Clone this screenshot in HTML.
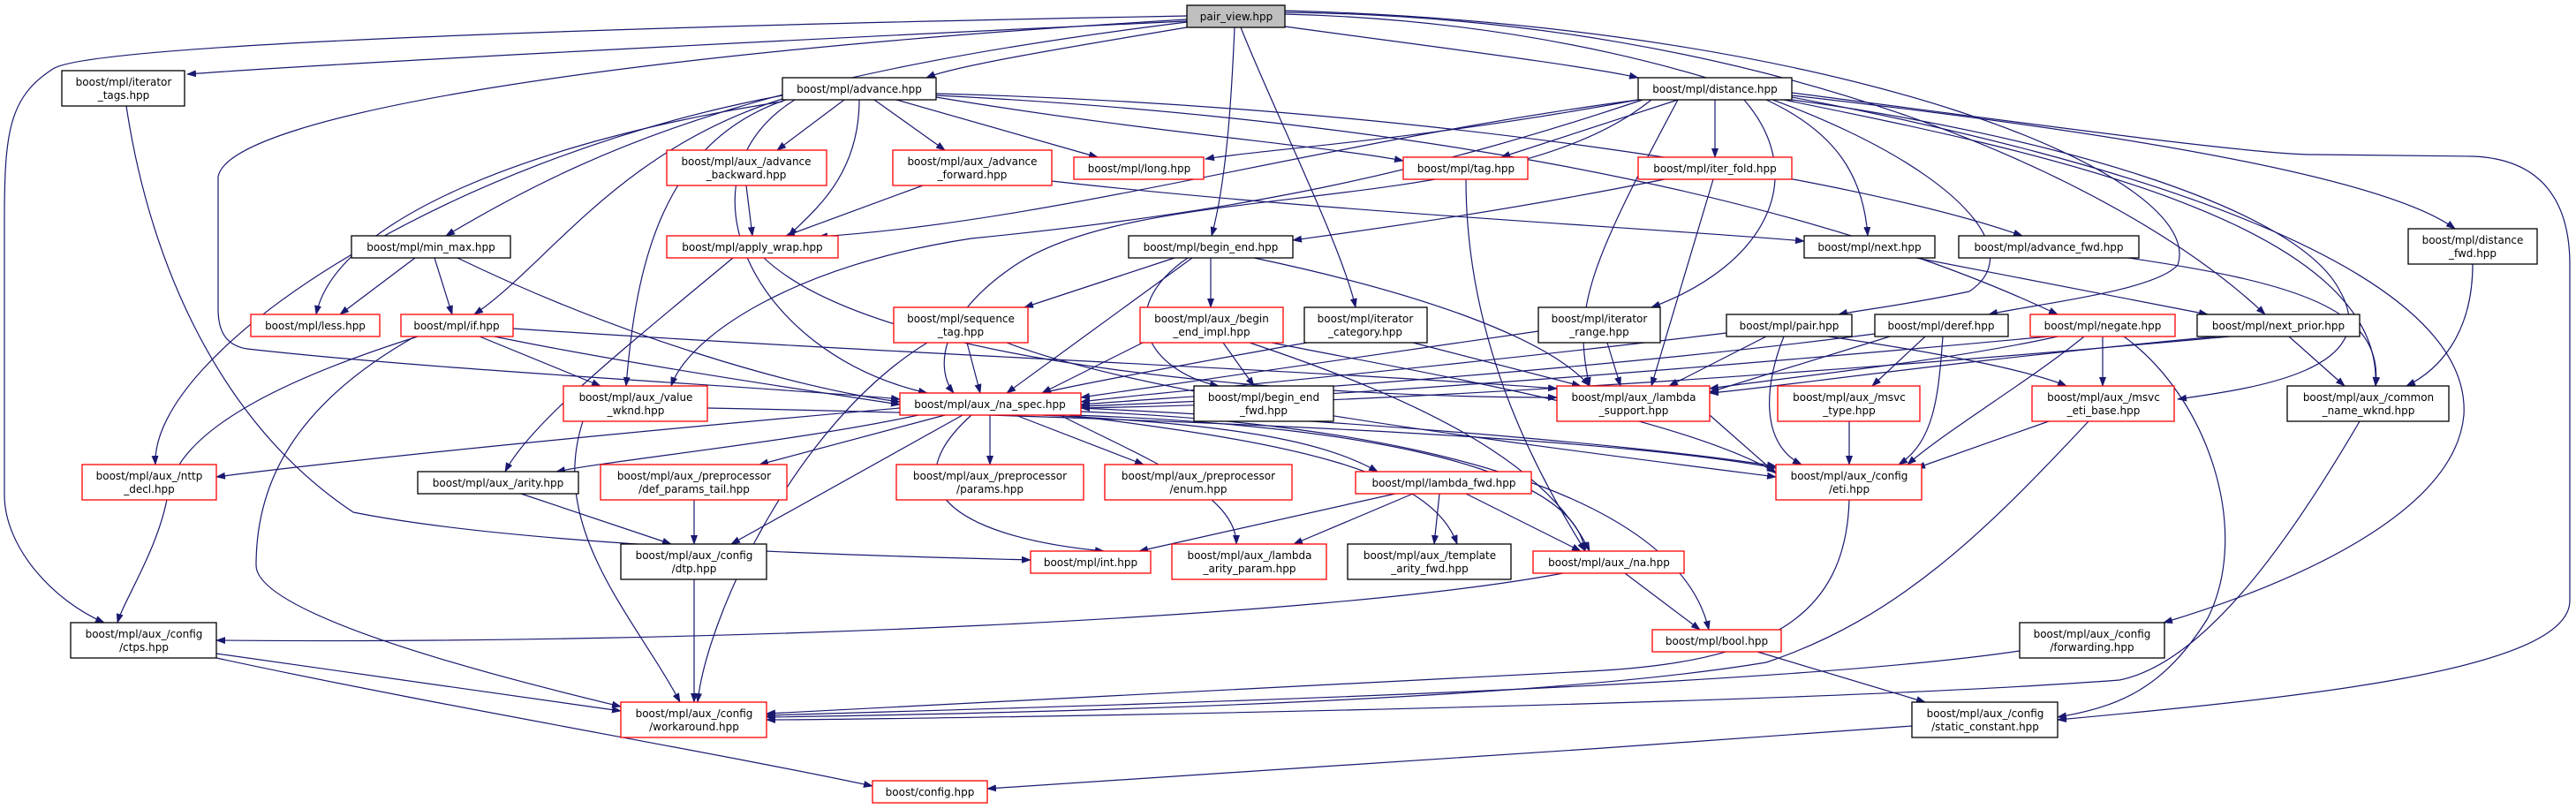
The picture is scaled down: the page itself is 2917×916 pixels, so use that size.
<!DOCTYPE html>
<html><head><meta charset="utf-8"><style>
html,body{margin:0;padding:0;background:#fff;}
svg{display:block;}
text{font-family:"DejaVu Sans","Liberation Sans",sans-serif;font-size:12px;fill:#000;text-anchor:middle;}
.e{fill:none;stroke:#191970;stroke-width:1.2;marker-end:url(#a);}
.b{fill:#fff;stroke:#000;stroke-width:1.3;}
.r{fill:#fff;stroke:#ff0000;stroke-width:1.3;}
</style></head><body>
<svg width="2917" height="916" viewBox="0 0 2917 916" xmlns="http://www.w3.org/2000/svg">
<defs><marker id="a" markerWidth="11" markerHeight="8" refX="10" refY="4" orient="auto" markerUnits="userSpaceOnUse"><path d="M0,0 L11,4 L0,8z" fill="#191970"/></marker></defs>
<g>
<path class="e" d="M1344,24 C1000,40 400,70 212,84"/>
<path class="e" d="M1344,18 C700,30 100,50 60,78 C10,110 5,150 5,250 L5,560 C5,620 60,680 118,705"/>
<path class="e" d="M1344,31 C1200,55 1080,75 1049,88"/>
<path class="e" d="M1344,25 C900,80 700,150 505,267"/>
<path class="e" d="M1344,22 C700,60 260,130 247,200 L247,350 C247,380 260,392 280,395 C500,420 900,440 1019,452"/>
<path class="e" d="M1398,31 C1395,100 1390,200 1372,267"/>
<path class="e" d="M1405,31 C1440,120 1520,280 1535,348"/>
<path class="e" d="M1455,30 C1600,50 1800,75 1855,88"/>
<path class="e" d="M1455,14 C2000,20 2400,200 2565,356"/>
<path class="e" d="M1455,16 C2000,30 2350,250 2230,330 C2160,345 2100,352 2082,356"/>
<path class="e" d="M1455,12 C2100,30 2500,200 2466,300 C2440,330 2300,345 2252,356"/>
<path class="e" d="M956,113 L880,170"/>
<path class="e" d="M990,113 L1070,170"/>
<path class="e" d="M973,113 C973,200 920,240 893,267"/>
<path class="e" d="M1015,113 L1243,178"/>
<path class="e" d="M1060,110 C1300,150 1500,165 1589,182"/>
<path class="e" d="M886,115 C600,160 380,250 358,356"/>
<path class="e" d="M886,112 C700,170 620,300 537,356"/>
<path class="e" d="M890,113 C750,160 720,300 709,437"/>
<path class="e" d="M900,113 C760,200 850,400 1050,445"/>
<path class="e" d="M886,108 C500,180 170,400 176,526"/>
<path class="e" d="M1060,106 C1600,120 2100,200 2290,267"/>
<path class="e" d="M1060,108 C1500,130 2000,200 2330,356"/>
<path class="e" d="M1855,113 C1600,160 1420,170 1365,180"/>
<path class="e" d="M1900,113 L1700,178"/>
<path class="e" d="M1942,113 L1942,178"/>
<path class="e" d="M2000,113 C2080,150 2110,200 2115,267"/>
<path class="e" d="M1975,113 C2050,200 2000,300 1870,348"/>
<path class="e" d="M1855,113 C1500,160 1200,250 927,268"/>
<path class="e" d="M1860,113 C1600,200 1400,240 1100,270 C900,300 780,380 760,437"/>
<path class="e" d="M1870,113 C1700,250 1300,200 1150,300 C1060,360 1060,420 1080,445"/>
<path class="e" d="M2029,108 C2400,150 2700,200 2780,259"/>
<path class="e" d="M2020,113 C2300,170 2700,250 2690,437"/>
<path class="e" d="M2029,113 C2300,150 2600,230 2650,330 C2700,420 2550,440 2466,452"/>
<path class="e" d="M2029,110 C2400,180 2800,300 2790,470 C2780,580 2600,660 2450,705"/>
<path class="e" d="M2029,105 C2300,140 2550,175 2620,175 L2800,177 C2880,180 2910,230 2910,300 L2910,680 C2910,760 2600,790 2330,815"/>
<path class="e" d="M1900,113 C1800,300 1780,350 1800,437"/>
<path class="e" d="M470,292 L385,356"/>
<path class="e" d="M492,292 L512,356"/>
<path class="e" d="M518,292 C700,380 900,440 1019,455"/>
<path class="e" d="M543,381 L680,437"/>
<path class="e" d="M560,381 C700,410 900,440 1019,458"/>
<path class="e" d="M473,381 C350,420 200,480 190,560 C180,620 140,680 133,705"/>
<path class="e" d="M470,381 C330,460 290,550 290,640 C290,700 600,775 703,800"/>
<path class="e" d="M581,372 C1000,400 1500,420 1763,440"/>
<path class="e" d="M845,210 L852,267"/>
<path class="e" d="M1045,210 L890,267"/>
<path class="e" d="M1191,205 C1500,240 1900,260 2043,273"/>
<path class="e" d="M830,292 C700,400 600,480 572,534"/>
<path class="e" d="M865,292 C1000,420 1500,450 1763,450"/>
<path class="e" d="M1330,292 L1160,348"/>
<path class="e" d="M1371,292 L1371,348"/>
<path class="e" d="M1350,292 L1140,445"/>
<path class="e" d="M1345,292 C1260,350 1300,420 1380,437"/>
<path class="e" d="M1420,292 C1600,330 1750,380 1800,437"/>
<path class="e" d="M1095,388 L1110,445"/>
<path class="e" d="M1050,388 C900,480 800,700 790,795"/>
<path class="e" d="M1140,388 C1300,450 1700,500 2011,540"/>
<path class="e" d="M1385,388 L1420,437"/>
<path class="e" d="M1415,388 C1600,450 1750,520 1800,624"/>
<path class="e" d="M1440,388 C1600,420 1900,470 2011,535"/>
<path class="e" d="M1300,385 L1180,445"/>
<path class="e" d="M1660,203 C1660,400 1750,550 1795,624"/>
<path class="e" d="M1885,203 C1700,240 1550,260 1464,272"/>
<path class="e" d="M1940,203 L1870,437"/>
<path class="e" d="M2170,292 L2500,356"/>
<path class="e" d="M1480,388 C1300,420 1200,440 1180,445"/>
<path class="e" d="M1600,388 L1790,437"/>
<path class="e" d="M1742,375 C1500,410 1300,440 1224,450"/>
<path class="e" d="M1820,388 L1835,437"/>
<path class="e" d="M1955,377 C1600,420 1300,445 1224,455"/>
<path class="e" d="M2000,381 L1890,437"/>
<path class="e" d="M2020,381 C2000,430 1990,500 2040,526"/>
<path class="e" d="M2070,381 C2200,400 2300,420 2340,437"/>
<path class="e" d="M2123,378 C1800,420 1400,445 1224,458"/>
<path class="e" d="M2140,381 L1936,444"/>
<path class="e" d="M2180,381 L2120,437"/>
<path class="e" d="M2200,381 C2195,450 2190,500 2150,526"/>
<path class="e" d="M2320,381 C1900,420 1500,450 1224,460"/>
<path class="e" d="M2330,381 C2200,410 2000,430 1936,440"/>
<path class="e" d="M2381,381 L2381,437"/>
<path class="e" d="M2360,381 C2300,430 2200,490 2160,526"/>
<path class="e" d="M2405,381 C2500,450 2550,600 2500,700 C2450,780 2400,800 2330,812"/>
<path class="e" d="M2525,381 C2100,420 1600,455 1224,462"/>
<path class="e" d="M2510,381 C2200,410 2000,440 1936,445"/>
<path class="e" d="M2592,381 L2655,437"/>
<path class="e" d="M2410,292 C2600,320 2700,350 2690,437"/>
<path class="e" d="M2800,299 C2800,380 2760,420 2725,437"/>
<path class="e" d="M2094,477 L2094,526"/>
<path class="e" d="M2320,477 L2170,530"/>
<path class="e" d="M2365,477 C2250,600 2150,700 2000,750 C1700,800 1000,810 868,812"/>
<path class="e" d="M2672,477 C2600,600 2500,750 2400,770 C2000,800 1000,815 868,815"/>
<path class="e" d="M801,462 C1200,470 1800,490 2011,530"/>
<path class="e" d="M660,477 C620,600 720,700 770,795"/>
<path class="e" d="M1019,462 C700,490 400,520 245,540"/>
<path class="e" d="M1040,470 C900,500 700,520 630,534"/>
<path class="e" d="M1070,470 L860,526"/>
<path class="e" d="M1121,470 L1121,526"/>
<path class="e" d="M1150,470 L1295,526"/>
<path class="e" d="M1180,470 C1400,480 1500,500 1560,534"/>
<path class="e" d="M1090,470 L828,616"/>
<path class="e" d="M1100,470 C1000,560 1100,610 1250,624"/>
<path class="e" d="M1200,470 C1300,520 1400,560 1400,616"/>
<path class="e" d="M1210,470 C1450,500 1620,530 1650,616"/>
<path class="e" d="M1215,470 C1500,480 1780,520 1795,624"/>
<path class="e" d="M1224,466 C1600,480 1900,560 1935,713"/>
<path class="e" d="M1224,462 C1600,480 1900,510 2011,528"/>
<path class="e" d="M590,559 L760,616"/>
<path class="e" d="M786,566 L786,616"/>
<path class="e" d="M786,656 L786,795"/>
<path class="e" d="M1580,559 L1290,624"/>
<path class="e" d="M1600,559 L1465,616"/>
<path class="e" d="M1630,559 L1624,616"/>
<path class="e" d="M1660,559 L1790,624"/>
<path class="e" d="M1840,649 L1925,713"/>
<path class="e" d="M1770,649 C1500,700 800,730 245,725"/>
<path class="e" d="M2094,566 C2090,700 2000,750 1800,760 C1400,780 1000,800 868,808"/>
<path class="e" d="M1990,738 L2180,795"/>
<path class="e" d="M2287,737 C2000,780 1200,800 868,810"/>
<path class="e" d="M245,740 L703,805"/>
<path class="e" d="M245,745 C500,800 800,850 988,890"/>
<path class="e" d="M2165,822 C1800,850 1300,880 1118,893"/>
<path class="e" d="M143,120 C170,300 250,480 400,580 C600,620 1000,630 1167,634"/>
<path class="e" d="M1936,470 L2011,536"/>
</g>
<g>
<rect x="1344" y="6" width="111" height="25" fill="#bfbfbf" stroke="#000" stroke-width="1.3"/><text x="1400" y="23">pair_view.hpp</text>
<rect class="b" x="70" y="80" width="139" height="40"/><text x="140" y="97">boost/mpl/iterator</text><text x="140" y="112">_tags.hpp</text>
<rect class="b" x="886" y="88" width="174" height="25"/><text x="973" y="105">boost/mpl/advance.hpp</text>
<rect class="b" x="1855" y="88" width="174" height="25"/><text x="1942" y="105">boost/mpl/distance.hpp</text>
<rect class="b" x="398" y="267" width="180" height="25"/><text x="488" y="284">boost/mpl/min_max.hpp</text>
<rect class="r" x="284" y="356" width="146" height="25"/><text x="357" y="373">boost/mpl/less.hpp</text>
<rect class="r" x="454" y="356" width="127" height="25"/><text x="517" y="373">boost/mpl/if.hpp</text>
<rect class="r" x="755" y="170" width="181" height="40"/><text x="845" y="187">boost/mpl/aux_/advance</text><text x="845" y="202">_backward.hpp</text>
<rect class="r" x="1011" y="170" width="180" height="40"/><text x="1101" y="187">boost/mpl/aux_/advance</text><text x="1101" y="202">_forward.hpp</text>
<rect class="r" x="1216" y="178" width="147" height="25"/><text x="1290" y="195">boost/mpl/long.hpp</text>
<rect class="r" x="755" y="267" width="194" height="25"/><text x="852" y="284">boost/mpl/apply_wrap.hpp</text>
<rect class="b" x="1278" y="267" width="186" height="25"/><text x="1371" y="284">boost/mpl/begin_end.hpp</text>
<rect class="r" x="1012" y="348" width="152" height="40"/><text x="1088" y="365">boost/mpl/sequence</text><text x="1088" y="380">_tag.hpp</text>
<rect class="r" x="1291" y="348" width="162" height="40"/><text x="1372" y="365">boost/mpl/aux_/begin</text><text x="1372" y="380">_end_impl.hpp</text>
<rect class="r" x="638" y="437" width="163" height="40"/><text x="720" y="454">boost/mpl/aux_/value</text><text x="720" y="469">_wknd.hpp</text>
<rect class="r" x="1019" y="445" width="205" height="25"/><text x="1121" y="462">boost/mpl/aux_/na_spec.hpp</text>
<rect class="b" x="1352" y="437" width="158" height="40"/><text x="1431" y="454">boost/mpl/begin_end</text><text x="1431" y="469">_fwd.hpp</text>
<rect class="r" x="1589" y="178" width="141" height="25"/><text x="1660" y="195">boost/mpl/tag.hpp</text>
<rect class="r" x="1855" y="178" width="174" height="25"/><text x="1942" y="195">boost/mpl/iter_fold.hpp</text>
<rect class="b" x="2043" y="267" width="148" height="25"/><text x="2117" y="284">boost/mpl/next.hpp</text>
<rect class="b" x="1477" y="348" width="139" height="40"/><text x="1546" y="365">boost/mpl/iterator</text><text x="1546" y="380">_category.hpp</text>
<rect class="b" x="1742" y="348" width="138" height="40"/><text x="1811" y="365">boost/mpl/iterator</text><text x="1811" y="380">_range.hpp</text>
<rect class="b" x="1955" y="356" width="142" height="25"/><text x="2026" y="373">boost/mpl/pair.hpp</text>
<rect class="b" x="2123" y="356" width="151" height="25"/><text x="2198" y="373">boost/mpl/deref.hpp</text>
<rect class="r" x="1763" y="437" width="173" height="40"/><text x="1850" y="454">boost/mpl/aux_/lambda</text><text x="1850" y="469">_support.hpp</text>
<rect class="r" x="2013" y="437" width="161" height="40"/><text x="2094" y="454">boost/mpl/aux_/msvc</text><text x="2094" y="469">_type.hpp</text>
<rect class="b" x="2218" y="267" width="204" height="25"/><text x="2320" y="284">boost/mpl/advance_fwd.hpp</text>
<rect class="b" x="2727" y="259" width="146" height="40"/><text x="2800" y="276">boost/mpl/distance</text><text x="2800" y="291">_fwd.hpp</text>
<rect class="r" x="2299" y="356" width="164" height="25"/><text x="2381" y="373">boost/mpl/negate.hpp</text>
<rect class="b" x="2488" y="356" width="184" height="25"/><text x="2580" y="373">boost/mpl/next_prior.hpp</text>
<rect class="r" x="2301" y="437" width="161" height="40"/><text x="2382" y="454">boost/mpl/aux_/msvc</text><text x="2382" y="469">_eti_base.hpp</text>
<rect class="b" x="2590" y="437" width="183" height="40"/><text x="2682" y="454">boost/mpl/aux_/common</text><text x="2682" y="469">_name_wknd.hpp</text>
<rect class="r" x="93" y="526" width="152" height="40"/><text x="169" y="543">boost/mpl/aux_/nttp</text><text x="169" y="558">_decl.hpp</text>
<rect class="b" x="473" y="534" width="182" height="25"/><text x="564" y="551">boost/mpl/aux_/arity.hpp</text>
<rect class="r" x="680" y="526" width="211" height="40"/><text x="786" y="543">boost/mpl/aux_/preprocessor</text><text x="786" y="558">/def_params_tail.hpp</text>
<rect class="r" x="1015" y="526" width="212" height="40"/><text x="1121" y="543">boost/mpl/aux_/preprocessor</text><text x="1121" y="558">/params.hpp</text>
<rect class="r" x="1251" y="526" width="212" height="40"/><text x="1357" y="543">boost/mpl/aux_/preprocessor</text><text x="1357" y="558">/enum.hpp</text>
<rect class="r" x="1535" y="534" width="199" height="25"/><text x="1635" y="551">boost/mpl/lambda_fwd.hpp</text>
<rect class="r" x="2011" y="526" width="165" height="40"/><text x="2094" y="543">boost/mpl/aux_/config</text><text x="2094" y="558">/eti.hpp</text>
<rect class="b" x="703" y="616" width="165" height="40"/><text x="786" y="633">boost/mpl/aux_/config</text><text x="786" y="648">/dtp.hpp</text>
<rect class="r" x="1167" y="624" width="136" height="25"/><text x="1235" y="641">boost/mpl/int.hpp</text>
<rect class="r" x="1327" y="616" width="175" height="40"/><text x="1415" y="633">boost/mpl/aux_/lambda</text><text x="1415" y="648">_arity_param.hpp</text>
<rect class="b" x="1526" y="616" width="185" height="40"/><text x="1619" y="633">boost/mpl/aux_/template</text><text x="1619" y="648">_arity_fwd.hpp</text>
<rect class="r" x="1736" y="624" width="171" height="25"/><text x="1822" y="641">boost/mpl/aux_/na.hpp</text>
<rect class="b" x="80" y="705" width="165" height="40"/><text x="163" y="722">boost/mpl/aux_/config</text><text x="163" y="737">/ctps.hpp</text>
<rect class="r" x="1871" y="713" width="146" height="25"/><text x="1944" y="730">boost/mpl/bool.hpp</text>
<rect class="b" x="2287" y="705" width="164" height="40"/><text x="2369" y="722">boost/mpl/aux_/config</text><text x="2369" y="737">/forwarding.hpp</text>
<rect class="r" x="703" y="795" width="165" height="40"/><text x="786" y="812">boost/mpl/aux_/config</text><text x="786" y="827">/workaround.hpp</text>
<rect class="b" x="2165" y="795" width="165" height="40"/><text x="2248" y="812">boost/mpl/aux_/config</text><text x="2248" y="827">/static_constant.hpp</text>
<rect class="r" x="988" y="884" width="130" height="25"/><text x="1053" y="901">boost/config.hpp</text>
</g>
</svg>
</body></html>
